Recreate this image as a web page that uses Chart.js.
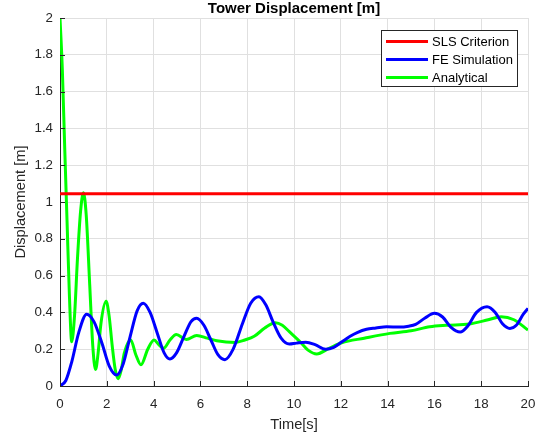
<!DOCTYPE html>
<html>
<head>
<meta charset="utf-8">
<script src="https://cdn.jsdelivr.net/npm/chart.js@4.4.0/dist/chart.umd.min.js"></script>
<style>
html,body{margin:0;padding:0;background:#fff;}
canvas{display:block;}
</style>
</head>
<body>
<canvas id="c" width="547" height="437"></canvas>
<script>
const chartTitle = "Tower Displacement [m]";
const xLabel = "Time[s]";
const yLabel = "Displacement [m]";
const seriesNames = ["SLS Criterion", "FE Simulation", "Analytical"];

const slsTime = [0, 20];
const slsDisp = [1.045, 1.045];

const feTime = [0, 0.25, 0.5, 0.8, 1.14, 1.45, 1.8, 2.1, 2.42, 2.7, 3.0, 3.3, 3.56, 3.85, 4.15, 4.45, 4.7, 4.98, 5.3, 5.6, 5.84, 6.15, 6.45, 6.75, 7.05, 7.4, 7.8, 8.15, 8.5, 8.8, 9.1, 9.45, 9.8, 10.1, 10.5, 10.9, 11.35, 11.7, 12.05, 12.4, 12.7, 13.1, 13.5, 13.96, 14.5, 14.9, 15.2, 15.6, 16.0, 16.35, 16.7, 17.1, 17.45, 17.8, 18.25, 18.6, 18.9, 19.23, 19.5, 19.8, 20];
const feDisp = [0, 0.03, 0.13, 0.29, 0.39, 0.35, 0.23, 0.11, 0.06, 0.12, 0.27, 0.41, 0.45, 0.40, 0.29, 0.18, 0.147, 0.18, 0.27, 0.35, 0.368, 0.33, 0.25, 0.17, 0.143, 0.2, 0.34, 0.45, 0.485, 0.44, 0.35, 0.26, 0.228, 0.233, 0.238, 0.225, 0.2, 0.21, 0.24, 0.27, 0.29, 0.308, 0.315, 0.322, 0.32, 0.325, 0.335, 0.37, 0.395, 0.375, 0.32, 0.293, 0.33, 0.4, 0.431, 0.4, 0.34, 0.313, 0.33, 0.39, 0.422];

const anTime = [0, 0.1, 0.2, 0.3, 0.4, 0.5, 0.62, 0.75, 0.88, 1.0, 1.12, 1.27, 1.4, 1.52, 1.63, 1.75, 1.97, 2.1, 2.23, 2.36, 2.49, 2.62, 2.75, 3.02, 3.24, 3.46, 3.75, 4.02, 4.22, 4.42, 4.7, 4.97, 5.4, 5.84, 6.3, 6.7, 7.5, 7.9, 8.3, 8.75, 9.2, 9.5, 9.8, 10.3, 10.6, 10.97, 11.5, 12.04, 13.0, 14.1, 15.0, 15.8, 16.5, 17.5, 18.3, 18.85, 19.4, 20];
const anDisp = [2.0, 1.72, 1.3, 0.9, 0.5, 0.24, 0.38, 0.7, 0.95, 1.05, 0.93, 0.55, 0.22, 0.09, 0.18, 0.34, 0.46, 0.38, 0.22, 0.09, 0.04, 0.09, 0.18, 0.25, 0.17, 0.115, 0.2, 0.25, 0.225, 0.205, 0.25, 0.28, 0.253, 0.275, 0.26, 0.246, 0.237, 0.25, 0.27, 0.315, 0.344, 0.33, 0.295, 0.235, 0.195, 0.174, 0.205, 0.235, 0.26, 0.286, 0.3, 0.322, 0.33, 0.337, 0.36, 0.377, 0.36, 0.304];

const xTickStep = 2;
const yTickStep = 0.2;

function pts(xs, ys) { return xs.map((x, i) => ({x: x, y: ys[i]})); }

const FONT = "'Liberation Sans', Arial, Helvetica, sans-serif";
const TXT = '#262626';

const inwardTicks = {
  id: 'inwardTicks',
  afterDatasetsDraw(chart) {
    const {ctx, chartArea: a, scales: {x, y}} = chart;
    ctx.save();
    ctx.strokeStyle = TXT;
    ctx.lineWidth = 1;
    ctx.beginPath();
    x.ticks.forEach(t => {
      const px = Math.round(x.getPixelForValue(t.value)) + 0.5;
      ctx.moveTo(px, a.bottom); ctx.lineTo(px, a.bottom - 5);
    });
    y.ticks.forEach(t => {
      const py = Math.round(y.getPixelForValue(t.value)) + 0.5;
      ctx.moveTo(a.left, py); ctx.lineTo(a.left + 5, py);
    });
    ctx.stroke();
    ctx.restore();
  }
};

const titleAndLegend = {
  id: 'titleAndLegend',
  afterDraw(chart) {
    const {ctx, chartArea: a} = chart;
    ctx.save();
    ctx.fillStyle = '#000';
    ctx.font = "bold 15px " + FONT;
    ctx.textAlign = 'center';
    ctx.textBaseline = 'middle';
    ctx.fillText(chartTitle, (a.left + a.right) / 2, 8.5);

    const bx = 381.5, by = 30.5, bw = 136, bh = 56;
    ctx.fillStyle = '#fff';
    ctx.fillRect(bx, by, bw, bh);
    ctx.strokeStyle = TXT;
    ctx.lineWidth = 1;
    ctx.strokeRect(bx, by, bw, bh);
    ctx.font = "13px " + FONT;
    ctx.textAlign = 'left';
    chart.data.datasets.forEach((ds, i) => {
      const ly = 41.5 + i * 18;
      ctx.strokeStyle = ds.borderColor;
      ctx.lineWidth = 3;
      ctx.beginPath();
      ctx.moveTo(386, ly); ctx.lineTo(428, ly);
      ctx.stroke();
      ctx.fillStyle = '#000';
      ctx.fillText(ds.label, 432, ly + 0.5);
    });
    ctx.restore();
  }
};

new Chart(document.getElementById('c'), {
  type: 'line',
  data: {
    datasets: [
      {label: seriesNames[0], data: pts(slsTime, slsDisp), borderColor: '#ff0000', borderWidth: 3, pointRadius: 0, fill: false},
      {label: seriesNames[1], data: pts(feTime, feDisp), borderColor: '#0000ff', borderWidth: 3, pointRadius: 0, fill: false, cubicInterpolationMode: 'monotone'},
      {label: seriesNames[2], data: pts(anTime, anDisp), borderColor: '#00ff00', borderWidth: 3, pointRadius: 0, fill: false, cubicInterpolationMode: 'monotone'}
    ]
  },
  options: {
    responsive: false,
    animation: false,
    layout: {padding: {top: 18, right: 19, bottom: 0, left: 0}},
    plugins: {legend: {display: false}, title: {display: false}, tooltip: {enabled: false}},
    scales: {
      x: {
        type: 'linear', min: 0, max: 20,
        ticks: {stepSize: xTickStep, color: TXT, font: {family: FONT, size: 13.33}, padding: 10, maxRotation: 0},
        grid: {color: '#e0e0e0', drawTicks: false},
        border: {color: TXT, width: 1},
        title: {display: true, text: xLabel, color: TXT, font: {family: FONT, size: 14.67}, padding: {top: 0, bottom: 3}},
        afterFit(s) { s.height = 51; }
      },
      y: {
        type: 'linear', min: 0, max: 2,
        ticks: {stepSize: yTickStep, color: TXT, font: {family: FONT, size: 13.33}, padding: 7,
          callback: v => String(+(+v).toFixed(1))},
        grid: {color: '#e0e0e0', drawTicks: false},
        border: {color: TXT, width: 1},
        title: {display: true, text: yLabel, color: TXT, font: {family: FONT, size: 14.67}, padding: {top: 12, bottom: 0}},
        afterFit(s) { s.width = 60; }
      }
    }
  },
  plugins: [inwardTicks, titleAndLegend]
});
</script>
</body>
</html>
